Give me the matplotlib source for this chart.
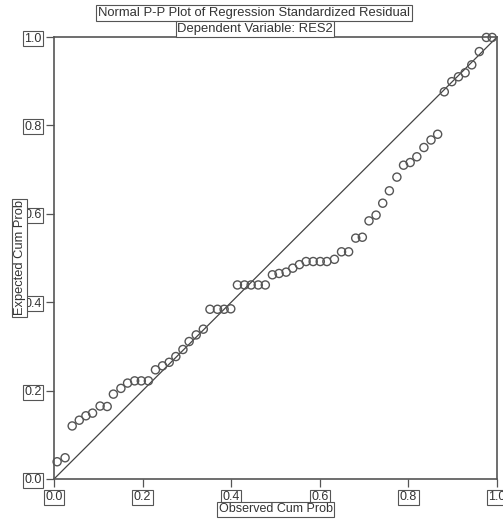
import matplotlib.pyplot as plt

# observed cum prob (x) and expected cum prob (y)
observed = [0.007, 0.025, 0.041, 0.057, 0.072, 0.087, 0.104, 0.120, 0.134, 0.151,
            0.166, 0.182, 0.197, 0.213, 0.229, 0.245, 0.260, 0.275, 0.291, 0.305,
            0.321, 0.337, 0.352, 0.369, 0.384, 0.399, 0.414, 0.430, 0.445, 0.461,
            0.477, 0.493, 0.508, 0.524, 0.539, 0.554, 0.569, 0.585, 0.601, 0.616,
            0.633, 0.649, 0.665, 0.681, 0.696, 0.711, 0.727, 0.742, 0.757, 0.774,
            0.789, 0.804, 0.819, 0.835, 0.851, 0.866, 0.881, 0.898, 0.913, 0.928,
            0.943, 0.960, 0.976, 0.989]
expected = [0.039, 0.048, 0.120, 0.133, 0.143, 0.149, 0.165, 0.164, 0.192, 0.205,
            0.217, 0.222, 0.222, 0.222, 0.247, 0.256, 0.264, 0.277, 0.293, 0.311,
            0.326, 0.339, 0.384, 0.384, 0.384, 0.385, 0.439, 0.439, 0.439, 0.439,
            0.439, 0.462, 0.465, 0.468, 0.477, 0.485, 0.492, 0.492, 0.492, 0.492,
            0.497, 0.514, 0.514, 0.545, 0.547, 0.584, 0.597, 0.624, 0.652, 0.683,
            0.710, 0.716, 0.729, 0.750, 0.767, 0.780, 0.876, 0.899, 0.910, 0.919,
            0.937, 0.967, 0.999, 0.999]
ticks = [0.0, 0.2, 0.4, 0.6, 0.8, 1.0]
tick_labels = ["0.0", "0.2", "0.4", "0.6", "0.8", "1.0"]

plt.rcParams['font.family'] = ['Liberation Sans', 'DejaVu Sans']
txt_col = '#333333'
box = dict(boxstyle='square,pad=0.12', fc='white', ec='#555555', lw=0.8)

fig = plt.figure(figsize=(5.03, 5.22), dpi=100)
ax = fig.add_axes([0.1074, 0.0824, 0.8807, 0.8467])

# reference line
ax.plot([0, 1], [0, 1], color='#444444', lw=0.9)
ax.scatter(observed, expected, s=34, facecolors='none', edgecolors='#555555',
           linewidths=1.0, zorder=3, clip_on=False)

ax.set_xlim(0, 1)
ax.set_ylim(0, 1)
ax.set_xticks(ticks)
ax.set_yticks(ticks)
ax.set_xticklabels(tick_labels)
ax.set_yticklabels(tick_labels)
ax.tick_params(direction='out', length=6, width=0.9, color='#555555',
               labelsize=9, labelcolor=txt_col, pad=3)
for lab in ax.get_xticklabels() + ax.get_yticklabels():
    lab.set_bbox(box)
for sp in ax.spines.values():
    sp.set_color('#555555')
    sp.set_linewidth(1.2)

ax.set_xlabel("Observed Cum Prob", fontsize=9, color=txt_col, labelpad=0, bbox=box)
ax.set_ylabel("Expected Cum Prob", fontsize=9.3, color=txt_col, labelpad=-1, bbox=box)

fig.text(254 / 503, 1 - 13 / 522, "Normal P-P Plot of Regression Standardized Residual",
         ha='center', va='center', fontsize=9.4, color=txt_col, bbox=box)
fig.text(255 / 503, 1 - 29 / 522, "Dependent Variable: RES2",
         ha='center', va='center', fontsize=9.4, color=txt_col, bbox=box)

fig.savefig("out.png", dpi=100)
